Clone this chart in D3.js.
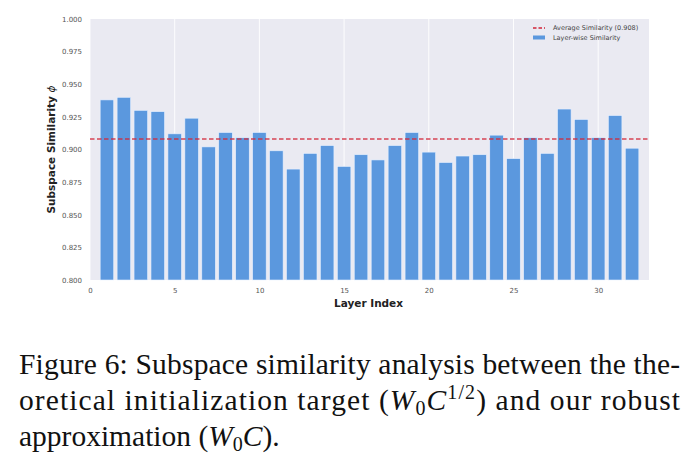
<!DOCTYPE html>
<html>
<head>
<meta charset="utf-8">
<script src="https://cdn.jsdelivr.net/npm/d3@7"></script>
<style>
  body { margin: 0; background: #fff; }
  svg { display: block; }
</style>
</head>
<body>
<div id="chart"></div>
<script>
// layer-wise subspace similarity
const layers = d3.range(1, 33);
const similarity = [0.938, 0.940, 0.930, 0.929, 0.912, 0.924, 0.902, 0.913,
                    0.909, 0.913, 0.899, 0.885, 0.897, 0.903, 0.887, 0.896,
                    0.892, 0.903, 0.913, 0.898, 0.890, 0.895, 0.896, 0.911,
                    0.893, 0.909, 0.897, 0.931, 0.923, 0.909, 0.926, 0.901];
const avgSimilarity = 0.908;
const yTicks = [0.800, 0.825, 0.850, 0.875, 0.900, 0.925, 0.950, 0.975, 1.000];
const xTicks = [0, 5, 10, 15, 20, 25, 30];

const W = 689, H = 467;
const m = { left: 90, right: 649, top: 19, bottom: 280 };

const svg = d3.select("#chart").append("svg")
    .attr("width", W)
    .attr("height", H)
    .style("font-family", "'DejaVu Sans', sans-serif");

const x = d3.scaleLinear().domain([0, 33]).range([m.left, m.right]);
const y = d3.scaleLinear().domain([0.8, 1.0]).range([m.bottom, m.top]);

// seaborn-like background
svg.append("rect")
    .attr("x", m.left).attr("y", m.top)
    .attr("width", m.right - m.left).attr("height", m.bottom - m.top)
    .attr("fill", "#eaeaf2");

svg.append("g")
    .selectAll("line")
    .data(xTicks).enter()
    .append("line")
    .attr("x1", d => x(d)).attr("x2", d => x(d))
    .attr("y1", m.top).attr("y2", m.bottom)
    .attr("stroke", "#fff").attr("stroke-width", 0.9);

// bars
svg.append("g")
    .selectAll("rect")
    .data(layers).enter()
    .append("rect")
    .attr("x", (d, i) => x(d - 0.4))
    .attr("width", x(0.8) - x(0))
    .attr("y", (d, i) => y(similarity[i]))
    .attr("height", (d, i) => y(0.8) - y(similarity[i]))
    .attr("fill", "#5b98de")
    .attr("stroke", "#e6f0ff")
    .attr("stroke-width", 0.6);

// average line
svg.append("line")
    .attr("x1", m.left).attr("x2", m.right)
    .attr("y1", y(avgSimilarity)).attr("y2", y(avgSimilarity))
    .attr("stroke", "#d1263a")
    .attr("stroke-opacity", 0.85)
    .attr("stroke-width", 1.4)
    .attr("stroke-dasharray", "4.5,2.5");

// axes
const xAxis = svg.append("g")
    .attr("transform", `translate(0,${m.bottom})`)
    .call(d3.axisBottom(x).tickValues(xTicks).tickSize(0).tickPadding(8));
const yAxis = svg.append("g")
    .attr("transform", `translate(${m.left},0)`)
    .call(d3.axisLeft(y).tickValues(yTicks).tickSize(0).tickPadding(8)
        .tickFormat(d3.format(".3f")));
[xAxis, yAxis].forEach(a => {
    a.select(".domain").remove();
    a.selectAll("text")
        .attr("fill", "#555")
        .style("font-size", "7px")
        .style("font-family", "'DejaVu Sans', sans-serif");
});

svg.append("text")
    .attr("x", (m.left + m.right) / 2 - 1)
    .attr("y", 307)
    .attr("text-anchor", "middle")
    .attr("font-weight", "bold")
    .attr("font-size", 10.5)
    .attr("fill", "#222")
    .text("Layer Index");

const yl = svg.append("text")
    .attr("transform", `translate(55,${(m.top + m.bottom) / 2}) rotate(-90)`)
    .attr("text-anchor", "middle")
    .attr("font-weight", "bold")
    .attr("font-size", 10.5)
    .attr("fill", "#222");
yl.append("tspan").text("Subspace Similarity ");
yl.append("tspan").attr("font-style", "italic").attr("font-weight", "normal").text("ϕ");

// legend
const lg = svg.append("g").attr("transform", "translate(533,28)");
lg.append("line")
    .attr("x1", 0).attr("x2", 12).attr("y1", 0).attr("y2", 0)
    .attr("stroke", "#d1263a").attr("stroke-width", 1.3)
    .attr("stroke-dasharray", "3.5,2");
lg.append("text").attr("x", 20).attr("y", 2.3)
    .attr("font-size", 6.5).attr("fill", "#444")
    .text(`Average Similarity (${avgSimilarity.toFixed(3)})`);
lg.append("rect").attr("x", 0).attr("y", 7.5).attr("width", 12).attr("height", 4)
    .attr("fill", "#5b98de");
lg.append("text").attr("x", 20).attr("y", 12)
    .attr("font-size", 6.5).attr("fill", "#444")
    .text("Layer-wise Similarity");

// caption
const cap = svg.append("g")
    .style("font-family", "'Liberation Serif', 'Times New Roman', serif")
    .attr("font-size", 29.5)
    .attr("fill", "#111");
cap.append("text").attr("x", 19).attr("y", 374)
    .attr("textLength", 661).attr("lengthAdjust", "spacing")
    .text("Figure 6: Subspace similarity analysis between the the-");
const l2 = cap.append("text").attr("x", 19).attr("y", 410)
    .attr("textLength", 661).attr("lengthAdjust", "spacing");
l2.append("tspan").text("oretical initialization target (");
l2.append("tspan").attr("font-style", "italic").text("W");
l2.append("tspan").attr("font-size", 20).attr("dy", 5).text("0");
l2.append("tspan").attr("font-style", "italic").attr("dy", -5).text("C");
l2.append("tspan").attr("font-size", 20).attr("dy", -11).text("1/2");
l2.append("tspan").attr("dy", 11).text(") and our robust");
const l3 = cap.append("text").attr("x", 19).attr("y", 446);
l3.append("tspan").text("approximation (");
l3.append("tspan").attr("font-style", "italic").text("W");
l3.append("tspan").attr("font-size", 20).attr("dy", 5).text("0");
l3.append("tspan").attr("font-style", "italic").attr("dy", -5).text("C");
l3.append("tspan").text(").");
</script>
</body>
</html>
